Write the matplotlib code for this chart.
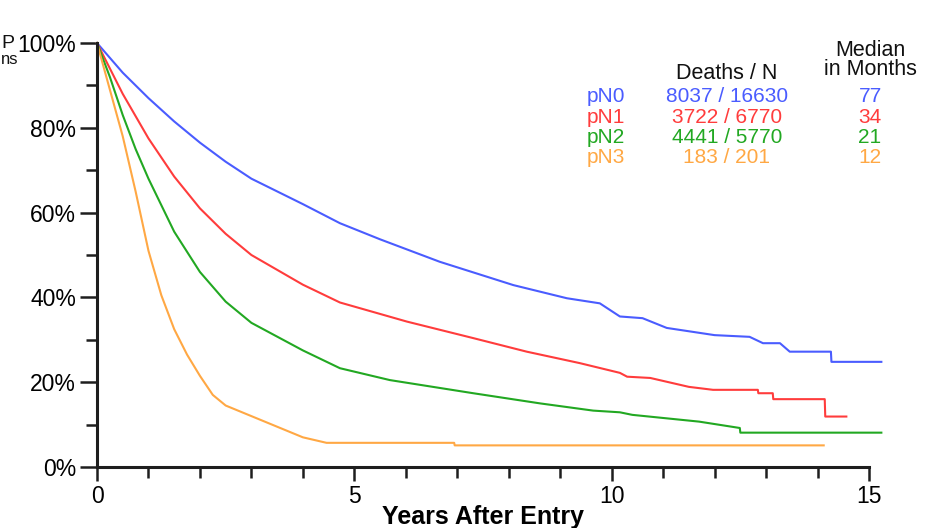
import numpy as np
import matplotlib
matplotlib.use("Agg")
import matplotlib.pyplot as plt
from matplotlib.ticker import MultipleLocator, FuncFormatter

plt.rcParams["font.family"] = ["Liberation Sans", "DejaVu Sans"]

# survival estimates (percent) by nodal stage, years after entry
t_pn0 = [0, 0.5, 1, 1.5, 2, 2.5, 3, 4, 4.72, 5.5, 6.66, 8.09, 9.13, 9.77, 10.16,
         10.6, 11.07, 12, 12.68, 12.94, 13.27, 13.46, 14.26, 14.27, 15.24]
s_pn0 = [100, 93, 87, 81.5, 76.5, 72, 68, 62, 57.5, 53.7, 48.4, 42.9, 39.8, 38.6, 35.5,
         35.1, 32.8, 31.1, 30.7, 29.2, 29.2, 27.2, 27.2, 24.8, 24.8]

t_pn1 = [0, 0.5, 1, 1.5, 2, 2.5, 3, 4, 4.72, 6.02, 7.31, 8.35, 9.38, 10.16, 10.3,
         10.75, 11.5, 11.97, 12.84, 12.85, 13.13, 13.14, 14.14, 14.15, 14.56]
s_pn1 = [100, 88, 77.5, 68.5, 61, 55, 50, 43, 38.8, 34.3, 30.4, 27.2, 24.5, 22.2, 21.3,
         21, 18.9, 18.2, 18.2, 17.4, 17.4, 16, 16, 11.9, 11.9]

t_pn2 = [0, 0.25, 0.5, 0.75, 1, 1.5, 2, 2.5, 3, 4, 4.72, 5.69, 7.31, 8.61, 9.64, 10.16,
         10.4, 11.7, 12.49, 12.5, 15.24]
s_pn2 = [100, 92, 83, 75, 68, 55.5, 46, 39, 34, 27.5, 23.3, 20.5, 17.4, 15, 13.3, 12.9,
         12.3, 10.7, 9.2, 8.1, 8.1]

t_pn3 = [0, 0.25, 0.5, 0.75, 1, 1.25, 1.5, 1.75, 2, 2.25, 2.5, 3, 3.5, 4, 4.46,
         6.94, 6.95, 14.12]
s_pn3 = [100, 89, 78, 65, 51, 40.5, 32.5, 26.5, 21.5, 17, 14.5, 12, 9.5, 7, 5.7,
         5.7, 5.1, 5.1]

groups = ["pN0", "pN1", "pN2", "pN3"]
deaths_n = ["8037 / 16630", "3722 / 6770", "4441 / 5770", "183 / 201"]
medians = ["77", "34", "21", "12"]
colors = ["#4a5cff", "#ff3c3c", "#22a822", "#ffa844"]

fig = plt.figure(figsize=(9.31, 5.28), dpi=100)
ax = fig.add_axes([97 / 931, 1 - 467 / 528, 772 / 931, 424 / 528])

curves = [(t_pn0, s_pn0), (t_pn1, s_pn1), (t_pn2, s_pn2), (t_pn3, s_pn3)]
for (t, s), c in zip(curves, colors):
    ax.plot(t, np.array(s) / 100, color=c, lw=1.5, clip_on=False)

ax.set_xlim(0, 15)
ax.set_ylim(0, 1)
for side in ["top", "right"]:
    ax.spines[side].set_visible(False)
for side in ["left", "bottom"]:
    ax.spines[side].set_linewidth(2.2)
    ax.spines[side].set_color("#1e1e1e")

ax.xaxis.set_major_locator(MultipleLocator(5))
ax.xaxis.set_minor_locator(MultipleLocator(1))
ax.yaxis.set_major_locator(MultipleLocator(0.2))
ax.yaxis.set_minor_locator(MultipleLocator(0.1))
ax.yaxis.set_major_formatter(FuncFormatter(lambda v, p: f"{v * 100:.0f}%"))
ax.tick_params(which="major", direction="out", length=12, width=1.8, color="#1e1e1e",
               labelsize=16.5, pad=3)
ax.tick_params(which="minor", direction="out", length=8, width=1.8, color="#1e1e1e")
ax.tick_params(axis="x", which="major", length=10, pad=3)

ax.set_xlabel("Years After Entry", fontsize=18, fontweight="bold", labelpad=-2)

# table of counts and medians in the upper right
hdr = dict(fontsize=15.5, color="#111111", ha="center", va="center", clip_on=False)
ax.text(12.24, 0.928, "Deaths / N", **hdr)
ax.text(15.02, 0.96, "Median\nin Months", linespacing=0.9, **hdr)
row_y = [0.873, 0.825, 0.778, 0.731]
for g, dn, md, c, y in zip(groups, deaths_n, medians, colors, row_y):
    ax.text(9.52, y, g, color=c, fontsize=15, ha="left", va="center")
    ax.text(12.24, y, dn, color=c, fontsize=15, ha="center", va="center")
    ax.text(15.02, y, md, color=c, fontsize=15, ha="center", va="center", clip_on=False)

fig.text(1 / 931, 1 - 44 / 528, "P", fontsize=14, ha="left", va="center", color="#111111")
fig.text(1 / 931, 1 - 60 / 528, "ns", fontsize=12, ha="left", va="center", color="#111111")

fig.savefig("out.png", dpi=100)
